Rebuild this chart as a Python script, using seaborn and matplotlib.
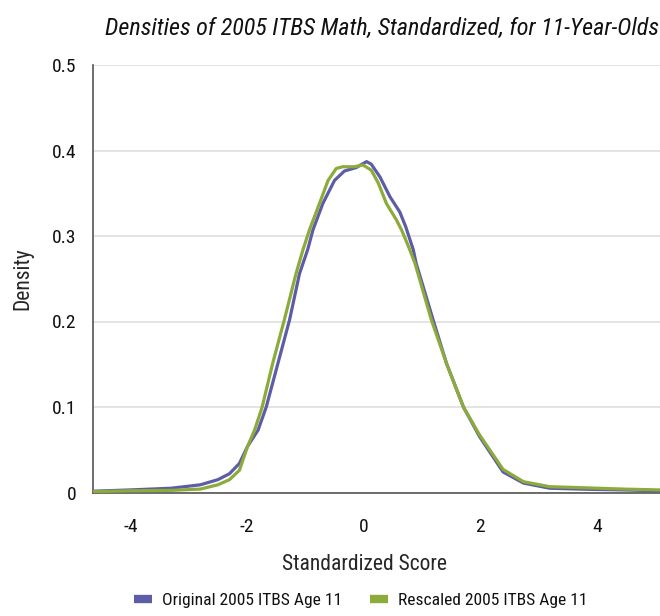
import numpy as np
import pandas as pd
import matplotlib
matplotlib.use("Agg")
import matplotlib.pyplot as plt
from matplotlib import font_manager
from matplotlib.lines import Line2D
import seaborn as sns

# Density curves of standardized 2005 ITBS Math scores, age 11
orig_x = [-4.64, -4.0, -3.3, -2.8, -2.5, -2.3, -2.13, -1.99, -1.81, -1.67,
          -1.47, -1.27, -1.10, -0.96, -0.87, -0.70, -0.50, -0.33, -0.13, 0.05,
          0.13, 0.28, 0.45, 0.62, 0.72, 0.85, 0.90, 1.19, 1.42, 1.71,
          1.99, 2.39, 2.74, 3.19, 3.88, 4.45, 5.08]
orig_y = [0.0015, 0.003, 0.005, 0.009, 0.015, 0.022, 0.034, 0.054, 0.073, 0.100,
          0.151, 0.202, 0.256, 0.284, 0.307, 0.338, 0.365, 0.376, 0.380, 0.387,
          0.384, 0.369, 0.346, 0.328, 0.311, 0.284, 0.268, 0.202, 0.151, 0.100,
          0.065, 0.024, 0.011, 0.005, 0.0037, 0.003, 0.002]

resc_x = [-4.64, -4.0, -3.3, -2.8, -2.5, -2.3, -2.13, -1.99, -1.87, -1.74,
          -1.56, -1.36, -1.16, -1.04, -0.93, -0.78, -0.61, -0.47, -0.36, -0.16,
          -0.01, 0.13, 0.25, 0.39, 0.56, 0.65, 0.70, 0.79, 0.88, 1.16,
          1.42, 1.71, 1.99, 2.39, 2.74, 3.19, 3.88, 4.45, 5.08]
resc_y = [0.001, 0.002, 0.0025, 0.004, 0.009, 0.015, 0.026, 0.054, 0.073, 0.100,
          0.151, 0.202, 0.256, 0.284, 0.307, 0.334, 0.365, 0.379, 0.381, 0.381,
          0.383, 0.377, 0.362, 0.338, 0.319, 0.307, 0.299, 0.284, 0.268, 0.202,
          0.151, 0.100, 0.067, 0.027, 0.0126, 0.0068, 0.0053, 0.004, 0.003]

series_names = ["Original 2005 ITBS Age 11", "Rescaled 2005 ITBS Age 11"]
series_colors = ["#5d5ca6", "#8dab3b"]

x_ticks = [-4, -2, 0, 2, 4]
y_ticks = [0, 0.1, 0.2, 0.3, 0.4, 0.5]
y_tick_labels = ["0", "0.1", "0.2", "0.3", "0.4", "0.5"]

df = pd.concat([
    pd.DataFrame({"score": orig_x, "density": orig_y, "series": series_names[0]}),
    pd.DataFrame({"score": resc_x, "density": resc_y, "series": series_names[1]}),
], ignore_index=True)

sns.set_theme(style="white")

# Prefer a narrow sans face; fall back to the condensed DejaVu cut or Liberation Sans
installed = {(f.name, str(f.stretch)) for f in font_manager.fontManager.ttflist}
names = {n for n, _ in installed}
family = None
stretch = "normal"
for cand in ["Liberation Sans Narrow", "Roboto Condensed", "Open Sans Condensed",
             "Arial Narrow", "DejaVu Sans Condensed"]:
    if cand in names:
        family = cand
        break
if family is None:
    if any(n == "DejaVu Sans" and s in ("condensed", "semi-condensed", "75", "87")
           for n, s in installed):
        family, stretch = "DejaVu Sans", "condensed"
    else:
        family = "Liberation Sans"
plt.rcParams["font.family"] = [family, "DejaVu Sans"]
plt.rcParams["font.stretch"] = stretch
plt.rcParams["font.weight"] = "normal"
plt.rcParams["text.color"] = "#111111"

fig = plt.figure(figsize=(6.6, 6.16), dpi=100)
ax = fig.add_axes([93 / 660, 1 - 492.5 / 616, 1 - 93 / 660, (492.5 - 65) / 616])

sns.lineplot(data=df, x="score", y="density", hue="series",
             palette=dict(zip(series_names, series_colors)),
             linewidth=2.3, sort=False, legend=False, ax=ax, zorder=3)

ax.set_xlim(-4.64, 5.08)
ax.set_ylim(0, 0.5)
ax.set_xticks(x_ticks)
ax.set_xticklabels([str(t) for t in x_ticks])
ax.set_yticks(y_ticks)
ax.set_yticklabels(y_tick_labels)

ax.grid(axis="y", color="#dcdcdc", linewidth=1.1, zorder=0)
ax.grid(axis="x", visible=False)
for side in ["top", "right"]:
    ax.spines[side].set_visible(False)
for side in ["left", "bottom"]:
    ax.spines[side].set_color("#555555")
    ax.spines[side].set_linewidth(1.2)
ax.tick_params(axis="both", direction="out", length=8, width=1.2,
               color="#555555", labelsize=14, labelcolor="#111111")
ax.tick_params(axis="y", pad=4)
ax.tick_params(axis="x", pad=10)

ax.set_xlabel("Standardized Score", fontsize=15.5)
ax.xaxis.set_label_coords((364 - 93) / (660 - 93), -0.145)
ax.set_ylabel("Density", fontsize=15.5)
ax.yaxis.set_label_coords(-0.105, 0.5)

fig.text(659 / 660, 1 - 28 / 616,
         "Densities of 2005 ITBS Math, Standardized, for 11-Year-Olds",
         ha="right", va="center", fontsize=17.4, style="italic")

handles = [Line2D([0], [0], color=c, linewidth=6, solid_capstyle="butt")
           for c in series_colors]
fig.legend(handles, series_names, loc="center", ncol=2,
           bbox_to_anchor=(361 / 660, 1 - 600 / 616), frameon=False,
           fontsize=12.6, handlelength=1.0, handletextpad=0.6,
           columnspacing=1.6)

fig.savefig("out.png", dpi=100)
